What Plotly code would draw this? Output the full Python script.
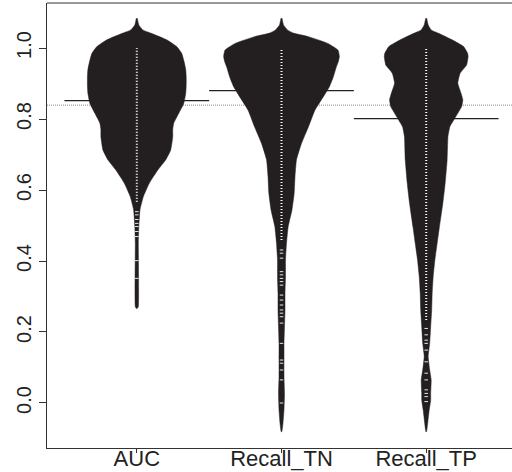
import plotly.graph_objects as go

# ---------------- data ----------------
categories = ["AUC", "Recall_TN", "Recall_TP"]

# density outline of each bean: value levels and relative density (half width)
auc_levels = [1.084, 1.065, 1.051, 1.042, 1.023, 1.004, 0.985, 0.966, 0.940, 0.919, 0.895, 0.872,
              0.844, 0.816, 0.788, 0.770, 0.750, 0.713, 0.685, 0.656, 0.619, 0.581, 0.544, 0.497,
              0.450, 0.271, 0.266]
auc_density = [0.5, 2.0, 6.0, 14.0, 30.0, 40.0, 45.0, 47.0, 49.0, 49.5, 49.5, 49.0,
               47.0, 42.0, 37.0, 36.0, 36.0, 34.0, 29.0, 21.0, 12.5, 6.5, 3.2, 2.0,
               1.5, 1.5, 0.3]

tn_levels = [1.084, 1.065, 1.051, 1.042, 1.032, 1.013, 0.994, 0.976, 0.962, 0.947, 0.919, 0.891,
             0.863, 0.825, 0.778, 0.731, 0.685, 0.637, 0.591, 0.544, 0.497, 0.450, 0.403, 0.356,
             0.309, 0.262, 0.215, 0.168, 0.121, 0.074, 0.027, -0.020, -0.057, -0.081]
tn_density = [0.5, 2.0, 6.0, 12.0, 27.0, 46.5, 56.7, 58.0, 57.0, 55.0, 52.0, 48.0,
              42.0, 33.5, 27.0, 20.0, 15.0, 13.5, 12.7, 10.5, 6.7, 5.0, 4.0, 4.0,
              3.5, 3.5, 3.0, 2.5, 2.5, 2.5, 3.0, 2.5, 1.5, 0.3]

tp_levels = [1.084, 1.065, 1.051, 1.042, 1.023, 1.004, 0.985, 0.976, 0.952, 0.929, 0.901, 0.872,
             0.854, 0.835, 0.807, 0.778, 0.750, 0.685, 0.619, 0.563, 0.497, 0.450, 0.403, 0.356,
             0.309, 0.262, 0.215, 0.168, 0.131, 0.093, 0.065, 0.027, 0.008, -0.020, -0.057, -0.081]
tp_density = [0.5, 2.0, 5.0, 12.0, 26.0, 37.5, 41.5, 42.0, 40.5, 34.0, 31.7, 35.0,
              36.7, 35.5, 29.7, 23.7, 21.8, 21.0, 19.0, 16.7, 13.3, 11.0, 8.7, 7.0,
              6.0, 5.5, 4.5, 3.5, 2.0, 3.5, 5.0, 4.5, 4.5, 3.0, 1.5, 0.3]

# bean lines: densely packed observation range and isolated observations
auc_dense = [0.567, 1.0]
tn_dense = [0.459, 1.0]
tp_dense = [0.234, 1.0]
auc_obs = [0.539, 0.530, 0.517, 0.506, 0.497, 0.483, 0.469, 0.401, 0.351]
tn_obs = [0.431, 0.422, 0.408, 0.370, 0.361, 0.351, 0.342, 0.332, 0.304, 0.290, 0.276,
          0.262, 0.253, 0.243, 0.225, 0.168, 0.121, 0.112, 0.093, 0.065, 0.0]
tp_obs = [0.210, 0.192, 0.177, 0.168, 0.149, 0.116, 0.084, 0.065, 0.037, 0.027, 0.018, 0.004]

bean_means = [0.852, 0.880, 0.801]
overall_mean = 0.839

y_ticks = [0.0, 0.2, 0.4, 0.6, 0.8, 1.0]
y_tick_labels = ["0.0", "0.2", "0.4", "0.6", "0.8", "1.0"]

# ---------------- style ----------------
BEAN_COLOR = "#231f20"
DENSITY_TO_X = 1.0 / 145.0
FONT = "Liberation Sans, Arial, sans-serif"

levels = [auc_levels, tn_levels, tp_levels]
densities = [auc_density, tn_density, tp_density]
denses = [auc_dense, tn_dense, tp_dense]
obs = [auc_obs, tn_obs, tp_obs]

fig = go.Figure()

x_min, x_max = 0.3793, 3.593

# overall mean (dotted) line behind beans
fig.add_trace(go.Scatter(x=[x_min, x_max], y=[overall_mean, overall_mean], mode="lines",
                         line=dict(color="#8a8a8a", width=1, dash="1px,1px"),
                         hoverinfo="skip", showlegend=False))

for i in range(3):
    pos = i + 1
    # bean mean line
    fig.add_trace(go.Scatter(x=[pos - 0.5, pos + 0.5], y=[bean_means[i]] * 2, mode="lines",
                             line=dict(color="#222222", width=1.2),
                             hoverinfo="skip", showlegend=False))
    lv = levels[i]
    dn = densities[i]
    xs = [pos + d * DENSITY_TO_X for d in dn] + [pos - d * DENSITY_TO_X for d in dn[::-1]]
    ys = lv + lv[::-1]
    fig.add_trace(go.Scatter(x=xs, y=ys, mode="lines", fill="toself",
                             fillcolor=BEAN_COLOR,
                             line=dict(color=BEAN_COLOR, width=0.5, shape="spline", smoothing=0.4),
                             hoverinfo="skip", showlegend=False))
    # dense beanline
    fig.add_trace(go.Scatter(x=[pos, pos], y=denses[i], mode="lines",
                             line=dict(color="white", width=2, dash="1px,2px"),
                             hoverinfo="skip", showlegend=False))
    # isolated observations
    fig.add_trace(go.Scatter(x=[pos] * len(obs[i]), y=obs[i], mode="markers",
                             marker=dict(symbol="line-ew", size=2.5,
                                         line=dict(color="#e8e8e8", width=1)),
                             hoverinfo="skip", showlegend=False))

# top border line
fig.add_shape(type="line", xref="paper", yref="paper", x0=0, x1=1, y0=1, y1=1,
              line=dict(color="#333333", width=1))

fig.update_layout(
    width=512, height=472,
    margin=dict(l=47, r=0, t=3, b=24),
    paper_bgcolor="white", plot_bgcolor="white",
    font=dict(family=FONT, color="#222222"),
    xaxis=dict(range=[x_min, x_max], tickmode="array", tickvals=[1, 2, 3],
               ticktext=categories, ticks="outside", ticklen=4, tickcolor="#333333",
               automargin=False, ticklabelstandoff=-13,
               showline=True, linecolor="#333333", linewidth=1,
               showgrid=False, zeroline=False, tickfont=dict(size=22, family=FONT)),
    yaxis=dict(range=[-0.1268, 1.1268], tickmode="array", tickvals=y_ticks,
               ticktext=y_tick_labels, ticks="outside", ticklen=7, tickcolor="#333333",
               tickangle=-90, automargin=False,
               showline=True, linecolor="#333333", linewidth=1,
               showgrid=False, zeroline=False, tickfont=dict(size=20, family=FONT)),
)

fig.write_html("out.html",
               config={"displayModeBar": False},
               post_script="document.body.style.margin='0';document.body.style.overflow='hidden';")
